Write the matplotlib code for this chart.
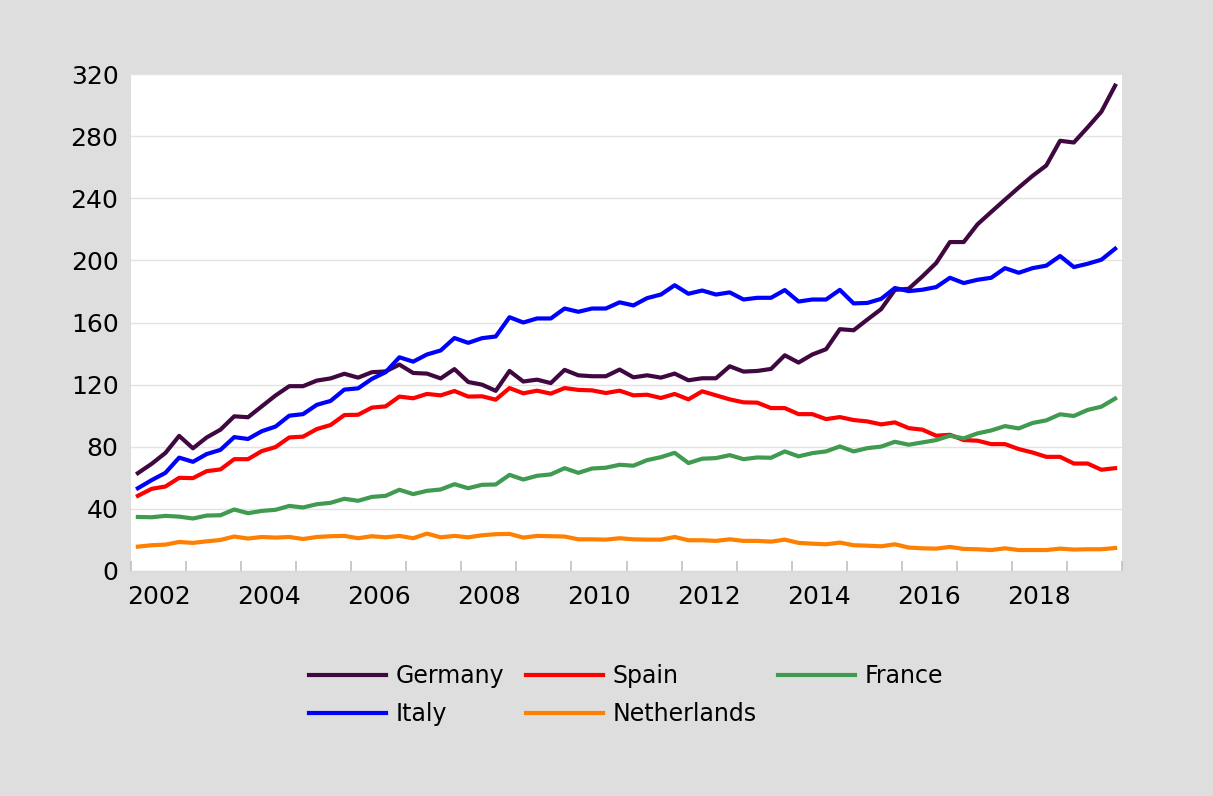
import numpy as np
import matplotlib.pyplot as plt

# quarterly values, 2002Q1 .. 2019Q4
germany = [63, 69, 76, 87, 79, 86, 91, 99.6, 99, 106, 113, 119, 119, 122.6, 124, 127, 124.5, 128, 128.5,
           132.9, 127.5, 127.1, 124, 130, 121.7, 120, 116, 128.8, 122, 123.2, 121, 129.5, 126, 125.4, 125.4, 129.7, 124.7,
           126, 124.5, 127.1, 122.8, 124.1, 124.1, 131.8, 128.4, 128.8, 130.1, 138.9, 134.2, 139.4, 142.8, 155.7, 155, 161.9, 168.6, 181,
           181.7, 189.7, 198.3, 211.8, 211.8, 223.2, 231.2, 239.1, 246.9, 254.4, 261.1, 277, 275.9, 285.6, 295.7, 312.5]
italy = [53.3, 58.5, 63.2, 73, 70.3, 75.3, 78, 86.2, 85, 90, 93, 100, 101, 107, 109.5, 116.8, 117.6, 123.7, 128,
         137.6, 134.8, 139.4, 142, 150, 146.9, 149.9, 151, 163.4, 160, 162.6, 162.6, 169, 166.9, 169, 169, 173, 171,
         175.7, 178, 184, 178.5, 180.6, 178, 179.4, 174.8, 175.9, 175.9, 180.9, 173.5, 174.8, 174.8, 181, 172.3, 172.6, 175.2,
         182.2, 180.2, 181.1, 182.8, 188.8, 185.4, 187.5, 188.8, 195, 192, 195, 196.6, 202.8, 195.7, 197.8, 200.4, 207.5]
spain = [48.4, 52.9, 54.4, 60, 59.8, 64.3, 65.4, 72, 72, 77.2, 79.8, 86, 86.5, 91.4, 94, 100.4, 100.6, 105.2, 106,
         112.3, 111.2, 114, 113.1, 115.9, 112.3, 112.5, 110.3, 117.8, 114.4, 116.1, 114.2, 117.8, 116.6, 116.3, 114.6, 116.1, 113.1,
         113.5, 111.4, 114, 110.5, 115.7, 113.1, 110.5, 108.6, 108.4, 104.9, 104.9, 101, 101, 97.8, 99.1, 97.2, 96.3,
         94.4, 95.7, 92, 91, 87.1, 87.7, 84.3, 83.9, 81.7, 81.7, 78.5, 76.3, 73.5, 73.5, 69.2, 69.2, 65.2, 66.2]
france = [34.8, 34.6, 35.5, 35, 33.8, 35.7, 35.9, 39.6, 37.2, 38.7, 39.4, 41.9, 40.9, 43, 43.9, 46.5, 45.2, 47.7, 48.4,
          52.3, 49.5, 51.6, 52.5, 55.9, 53.3, 55.5, 55.7, 61.9, 58.9, 61.3, 62.2, 66.2, 63.2, 66, 66.5, 68.4, 67.8,
          71.4, 73.3, 76.1, 69.5, 72.3, 72.7, 74.6, 72, 73.1, 72.9, 77, 73.8, 75.9, 77, 80.2, 77, 79.1,
          80.1, 83.2, 81.3, 82.8, 84.3, 87.1, 85.4, 88.6, 90.5, 93.3, 91.8, 95.3, 97, 100.9, 99.8, 103.7, 105.8, 111]
netherlands = [15.7, 16.6, 17, 18.7, 18.1, 19.1, 20, 22.2, 20.9, 21.9, 21.5, 21.9, 20.6, 21.9, 22.4, 22.6, 21.1, 22.4, 21.7,
               22.6, 21.1, 24.1, 21.7, 22.6, 21.7, 23, 23.7, 23.9, 21.5, 22.6, 22.4, 22.2, 20.4, 20.4, 20.2, 21.1, 20.4,
               20.2, 20.2, 21.9, 19.8, 19.8, 19.4, 20.4, 19.4, 19.4, 18.9, 20.2, 18.1, 17.6, 17.2, 18.3, 16.6, 16.3,
               15.9, 17.2, 15.1, 14.6, 14.4, 15.5, 14.2, 14, 13.5, 14.6, 13.5, 13.5, 13.5, 14.4, 13.8, 14, 14, 14.8]
years = list(range(2002, 2020))
y_ticks = [0, 40, 80, 120, 160, 200, 240, 280, 320]

plt.rcParams['font.family'] = ['DejaVu Sans']

fig = plt.figure(figsize=(12.13, 7.96), dpi=100, facecolor='#dedede')
ax = fig.add_axes([131 / 1213, 1 - 571 / 796, (1122 - 131) / 1213, (571 - 74) / 796])
ax.set_facecolor('white')

x = np.arange(len(germany))
lines = {}
lines['Germany'], = ax.plot(x, germany, color='#400840', lw=3, label='Germany')
lines['Italy'], = ax.plot(x, italy, color='#0000ff', lw=3, label='Italy')
lines['Spain'], = ax.plot(x, spain, color='#ff0000', lw=3, label='Spain')
lines['Netherlands'], = ax.plot(x, netherlands, color='#ff8000', lw=3, label='Netherlands')
lines['France'], = ax.plot(x, france, color='#409a50', lw=3, label='France')

ax.set_xlim(-0.5, len(germany) - 0.5)
ax.set_ylim(0, 320)
ax.set_yticks(y_ticks)
ax.grid(axis='y', color='#e3e3e3', lw=1)
ax.set_axisbelow(True)
ax.tick_params(axis='y', length=0, pad=9, labelsize=18)

# year boundaries as ticks, labels centred on every second year
bounds = [4 * i - 0.5 for i in range(len(years) + 1)]
ax.set_xticks(bounds)
ax.set_xticklabels([])
ax.tick_params(axis='x', which='major', direction='in', length=7, color='#c0c0c0', width=1.2)
centers = [4 * i + 1.5 for i, yr in enumerate(years) if yr % 2 == 0]
ax.set_xticks(centers, minor=True)
ax.set_xticklabels([str(yr) for yr in years if yr % 2 == 0], minor=True)
ax.tick_params(axis='x', which='minor', length=0, pad=10, labelsize=18)

for s in ['top', 'right', 'left']:
    ax.spines[s].set_visible(False)
ax.spines['bottom'].set_color('#d9d9d9')

# legend columns: Germany/Italy, Spain/Netherlands, France
handles = [lines['Germany'], lines['Italy'], lines['Spain'], lines['Netherlands'], lines['France']]
fig.legend(handles=handles, labels=[h.get_label() for h in handles], ncol=3,
           loc='upper left', bbox_to_anchor=(288 / 1213, 1 - 643 / 796),
           frameon=False, fontsize=17, handlelength=3.25, handletextpad=0.42,
           columnspacing=0.9, labelspacing=0.6)

fig.savefig('out.png', dpi=100, facecolor=fig.get_facecolor())
